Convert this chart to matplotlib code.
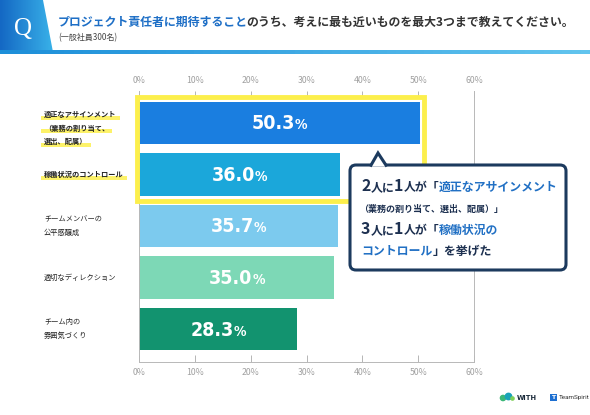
import matplotlib
matplotlib.use('Agg')
import matplotlib.pyplot as plt
import numpy as np
from matplotlib import font_manager as fm
from matplotlib.patches import Rectangle, Polygon, FancyBboxPatch
from matplotlib.colors import LinearSegmentedColormap

plt.rcParams['font.family'] = ['Noto Sans CJK JP', 'DejaVu Sans']
CJK = ['Noto Sans CJK JP', 'DejaVu Sans']

# data
categories = ['適正なアサインメント\n（業務の割り当て、\n選出、配属）',
              '稼働状況のコントロール',
              'チームメンバーの\n公平感醸成',
              '適切なディレクション',
              'チーム内の\n雰囲気づくり']
values = [50.3, 36.0, 35.7, 35.0, 28.3]
highlighted = [True, True, False, False, False]
bar_colors = ['#1a7ee0', '#1ba7da', '#7ccaee', '#7dd8b6', '#12936f']
tick_values = [0, 10, 20, 30, 40, 50, 60]
tick_labels = [f'{t}%' for t in tick_values]

title_blue = 'プロジェクト責任者に期待すること'
title_rest = 'のうち、考えに最も近いものを最大3つまで教えてください。'
subtitle = '(一般社員300名)'

# look for a narrow face for the big numbers
num_prop = None
for fam in ['DejaVu Sans', 'Liberation Sans Narrow', 'Roboto Condensed', 'Open Sans Condensed']:
    try:
        f = fm.findfont(fm.FontProperties(family=fam, stretch='condensed', weight='bold'),
                        fallback_to_default=False)
    except ValueError:
        continue
    if 'ondensed' in f or 'arrow' in f:
        num_prop = f
        break
NUM = ['DejaVu Sans']

W, H = 590, 415
fig = plt.figure(figsize=(W / 100, H / 100), dpi=100)

ax = fig.add_axes([139 / W, (H - 362) / H, 335 / W, 271 / H])
ypos = np.arange(len(values))
ax.barh(ypos, values, height=0.82, color=bar_colors, zorder=2)
ax.set_xlim(0, 60)
ax.set_ylim(4.64, -0.62)
ax.set_xticks(tick_values, tick_labels)
ax.set_yticks([])
ax.tick_params(axis='x', top=True, labeltop=True, direction='in', length=5,
               width=0.7, color='#b5b5b5', labelsize=6.3, labelcolor='#a0a0a0', pad=4)
for s in ['left', 'bottom', 'right']:
    ax.spines[s].set_color('#b8b8b8')
    ax.spines[s].set_linewidth(0.7)
ax.spines['top'].set_visible(False)

# overlay in pixel coordinates (y downwards)
ov = fig.add_axes([0, 0, 1, 1], zorder=5)
ov.set_xlim(0, W)
ov.set_ylim(H, 0)
ov.axis('off')
renderer = fig.canvas.get_renderer()


def to_ov(x, y):
    return ov.transData.inverted().transform(ax.transData.transform((x, y)))


def runs(x, y, parts, ha='left', va='baseline', z=7, gap=0):
    items = []
    for s, size, color, weight, fam in parts:
        if fam == 'num' and num_prop:
            t = ov.text(0, y, s, fontsize=size, color=color, va=va, ha='left', zorder=z,
                        fontproperties=fm.FontProperties(fname=num_prop, size=size))
        else:
            if fam == 'num':
                fam = NUM
            t = ov.text(0, y, s, fontsize=size, color=color, fontweight=weight,
                        family=fam, va=va, ha='left', zorder=z)
        items.append(t)
    widths = [t.get_window_extent(renderer).width + gap for t in items]
    cur = x - sum(widths) / 2 if ha == 'center' else x
    for t, w in zip(items, widths):
        t.set_x(cur)
        cur += w
    return items


# header
cm_q = LinearSegmentedColormap.from_list('q', ['#1468c4', '#39b2e9'])
qbox = Polygon([(0, 0), (43, 0), (53, 52), (0, 52)], closed=True, fc='none', ec='none')
ov.add_patch(qbox)
im = ov.imshow(np.linspace(0, 1, 64)[None, :], cmap=cm_q, extent=(0, 54, 52, 0),
               aspect='auto', zorder=1)
im.set_clip_path(qbox)
cm_line = LinearSegmentedColormap.from_list('l', ['#1d8fd9', '#62c4ee'])
ov.imshow(np.linspace(0, 1, 64)[None, :], cmap=cm_line, extent=(0, W, 54, 50),
          aspect='auto', zorder=1)
ov.set_xlim(0, W)
ov.set_ylim(H, 0)
ov.text(23, 29, 'Q', fontsize=18, color='white', family='Liberation Serif',
        ha='center', va='center', zorder=3)
runs(58, 22, [(title_blue, 8.6, '#1e6fc6', 'bold', CJK),
              (title_rest, 8.6, '#333333', 'bold', CJK)], va='center', gap=-1.5)
ov.text(58, 37.5, subtitle, fontsize=5.8, color='#444444', va='center')

# value labels
for i, v in enumerate(values):
    cx, cy = to_ov(v / 2, i)
    if num_prop:
        parts = [(f'{v:.1f}', 14, 'white', 'bold', 'num'), ('%', 10, 'white', 'bold', 'num')]
    else:
        parts = [(f'{v:.1f}', 11.5, 'white', 'bold', 'num'), ('%', 8, 'white', 'bold', 'num')]
    runs(cx, cy + 6.5, parts, ha='center', z=3)

# category labels
lh = 13.5
for i, (lab, hl) in enumerate(zip(categories, highlighted)):
    lines = lab.split('\n')
    _, cy = to_ov(0, i)
    y0 = cy - lh * (len(lines) - 1) / 2 + (len(lines) > 2) * 5
    for k, line in enumerate(lines):
        yy = y0 + k * lh
        t = ov.text(44, yy, line, fontsize=5.2, color='#222222', va='center',
                    fontweight='bold' if hl else 'normal', zorder=3)
        if hl:
            w = t.get_window_extent(renderer).width
            ov.add_patch(Rectangle((41, yy + 1.5), w + 6, 4, color='#fdf04f',
                                   alpha=0.85, lw=0, zorder=2))

# yellow frame around the top two bars
fx0, fy0 = to_ov(0, -0.41)
fx1, fy1 = to_ov(values[0], 1.41)
ov.add_patch(Rectangle((fx0 - 2.5, fy0 - 4.5), fx1 - fx0 + 7, fy1 - fy0 + 9.5,
                       fill=False, ec='#fcef4c', lw=3.5, zorder=2))

# callout
navy = '#1c3a5e'
ov.add_patch(FancyBboxPatch((350, 165), 216, 105, boxstyle='round,pad=0,rounding_size=6',
                            fc='white', ec=navy, lw=2.2, zorder=4))
ov.add_patch(Polygon([(371, 166.5), (378, 153), (386, 166.5)], closed=True,
                     fc='white', ec='none', zorder=5))
ov.plot([371, 378, 386], [165.2, 153, 165.2], color=navy, lw=2.2, zorder=6,
        solid_joinstyle='miter')

tc = '#1d3050'
blue = '#2170c4'
runs(361, 191, [('2', 11.5, tc, 'bold', CJK), ('人に', 8.6, tc, 'bold', CJK),
                ('1', 11.5, tc, 'bold', CJK), ('人が「', 8.6, tc, 'bold', CJK),
                ('適正なアサインメント', 8.6, blue, 'bold', CJK)])
runs(359, 211.5, [('（業務の割り当て、選出、配属）」', 6.5, tc, 'bold', CJK)])
runs(361, 234, [('3', 11.5, tc, 'bold', CJK), ('人に', 8.6, tc, 'bold', CJK),
                ('1', 11.5, tc, 'bold', CJK), ('人が「', 8.6, tc, 'bold', CJK),
                ('稼働状況の', 8.6, blue, 'bold', CJK)])
runs(361, 254.5, [('コントロール', 8.6, blue, 'bold', CJK),
                  ('」を挙げた', 8.6, tc, 'bold', CJK)])

# logos
ov.add_patch(plt.Circle((503, 398), 2.6, color='#3cb878', zorder=3))
ov.add_patch(plt.Circle((508.5, 396.5), 3.2, color='#19a3b8', zorder=3))
ov.add_patch(plt.Circle((512.5, 398.5), 1.6, color='#7fd05a', zorder=3))
ov.text(517, 398, 'WITH', fontsize=4.8, fontweight='bold', color='#1a2a3a',
        family='DejaVu Sans', va='center', zorder=3)
ov.add_patch(Rectangle((550, 393.5), 7, 7, color='#1d6fd1', lw=0, zorder=3))
ov.text(553.5, 397.2, 'T', fontsize=4.5, fontweight='bold', color='white',
        family='DejaVu Sans', ha='center', va='center', zorder=4)
ov.text(559, 397.5, 'TeamSpirit', fontsize=4.6, color='#333333',
        family='Roboto', va='center', zorder=3)

fig.savefig('out.png', dpi=100)
